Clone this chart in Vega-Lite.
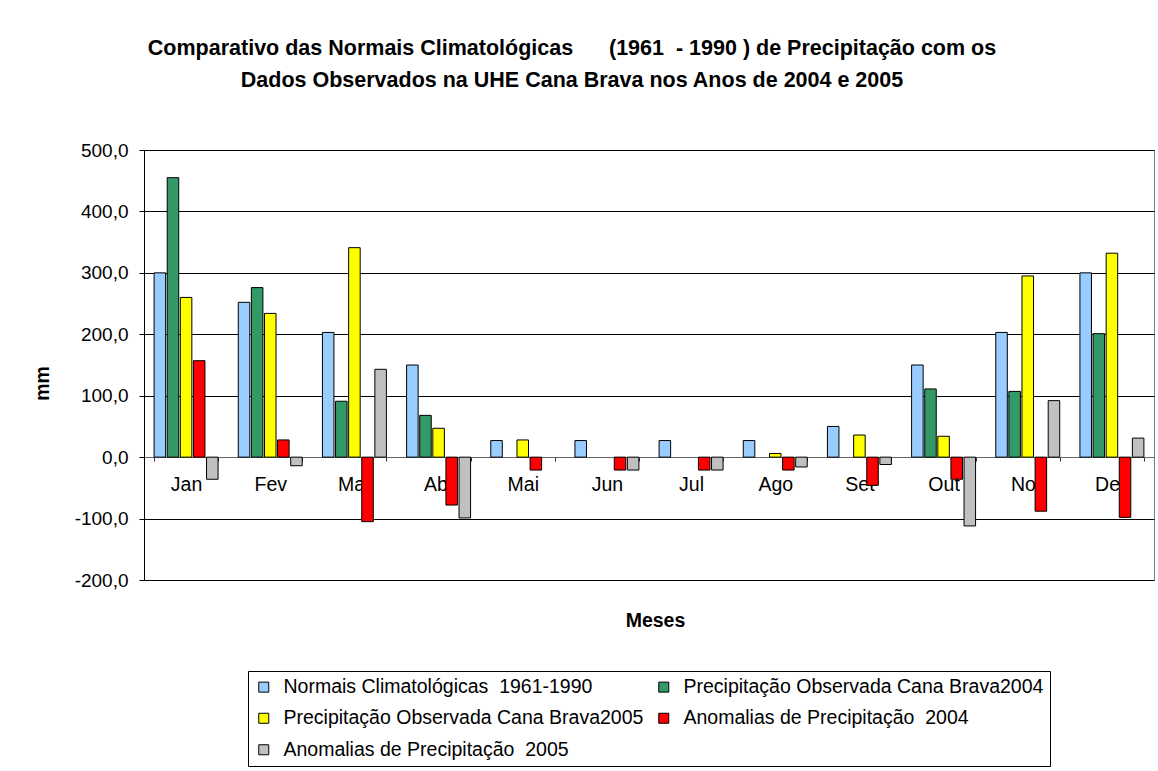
{
  "$schema": "https://vega.github.io/schema/vega-lite/v6.json",
  "width": 1010,
  "height": 430,
  "autosize": "none",
  "padding": {"left": 144, "top": 150, "right": 4, "bottom": 191},
  "background": "white",
  "title": {
    "text": ["Comparativo das Normais Climatológicas\u00a0\u00a0\u00a0\u00a0\u00a0\u00a0(1961\u00a0\u00a0- 1990 ) de Precipitação com os", "Dados Observados na UHE Cana Brava nos Anos de 2004 e 2005"],
    "anchor": "middle",
    "dx": -77,
    "offset": 50,
    "fontSize": 21.5,
    "font": "Liberation Sans",
    "fontWeight": "bold",
    "lineHeight": 32,
    "color": "#000"
  },
  "data": {
    "values": [
      {"mes": "Jan", "serie": "Normais Climatológicas\u00a0\u00a01961-1990", "valor": 300},
      {"mes": "Fev", "serie": "Normais Climatológicas\u00a0\u00a01961-1990", "valor": 252},
      {"mes": "Mar", "serie": "Normais Climatológicas\u00a0\u00a01961-1990", "valor": 203},
      {"mes": "Abr", "serie": "Normais Climatológicas\u00a0\u00a01961-1990", "valor": 150},
      {"mes": "Mai", "serie": "Normais Climatológicas\u00a0\u00a01961-1990", "valor": 27},
      {"mes": "Jun", "serie": "Normais Climatológicas\u00a0\u00a01961-1990", "valor": 27},
      {"mes": "Jul", "serie": "Normais Climatológicas\u00a0\u00a01961-1990", "valor": 27},
      {"mes": "Ago", "serie": "Normais Climatológicas\u00a0\u00a01961-1990", "valor": 27},
      {"mes": "Set", "serie": "Normais Climatológicas\u00a0\u00a01961-1990", "valor": 50},
      {"mes": "Out", "serie": "Normais Climatológicas\u00a0\u00a01961-1990", "valor": 150},
      {"mes": "Nov", "serie": "Normais Climatológicas\u00a0\u00a01961-1990", "valor": 203},
      {"mes": "Dez", "serie": "Normais Climatológicas\u00a0\u00a01961-1990", "valor": 300},
      {"mes": "Jan", "serie": "Precipitação Observada Cana Brava2004", "valor": 455},
      {"mes": "Fev", "serie": "Precipitação Observada Cana Brava2004", "valor": 276},
      {"mes": "Mar", "serie": "Precipitação Observada Cana Brava2004", "valor": 91},
      {"mes": "Abr", "serie": "Precipitação Observada Cana Brava2004", "valor": 68},
      {"mes": "Out", "serie": "Precipitação Observada Cana Brava2004", "valor": 111},
      {"mes": "Nov", "serie": "Precipitação Observada Cana Brava2004", "valor": 107},
      {"mes": "Dez", "serie": "Precipitação Observada Cana Brava2004", "valor": 201},
      {"mes": "Jan", "serie": "Precipitação Observada Cana Brava2005", "valor": 260},
      {"mes": "Fev", "serie": "Precipitação Observada Cana Brava2005", "valor": 234},
      {"mes": "Mar", "serie": "Precipitação Observada Cana Brava2005", "valor": 341},
      {"mes": "Abr", "serie": "Precipitação Observada Cana Brava2005", "valor": 47},
      {"mes": "Mai", "serie": "Precipitação Observada Cana Brava2005", "valor": 28},
      {"mes": "Ago", "serie": "Precipitação Observada Cana Brava2005", "valor": 6},
      {"mes": "Set", "serie": "Precipitação Observada Cana Brava2005", "valor": 36},
      {"mes": "Out", "serie": "Precipitação Observada Cana Brava2005", "valor": 34},
      {"mes": "Nov", "serie": "Precipitação Observada Cana Brava2005", "valor": 295},
      {"mes": "Dez", "serie": "Precipitação Observada Cana Brava2005", "valor": 332},
      {"mes": "Jan", "serie": "Anomalias de Precipitação\u00a0\u00a02004", "valor": 157},
      {"mes": "Fev", "serie": "Anomalias de Precipitação\u00a0\u00a02004", "valor": 28},
      {"mes": "Mar", "serie": "Anomalias de Precipitação\u00a0\u00a02004", "valor": -105},
      {"mes": "Abr", "serie": "Anomalias de Precipitação\u00a0\u00a02004", "valor": -78},
      {"mes": "Mai", "serie": "Anomalias de Precipitação\u00a0\u00a02004", "valor": -21},
      {"mes": "Jun", "serie": "Anomalias de Precipitação\u00a0\u00a02004", "valor": -21},
      {"mes": "Jul", "serie": "Anomalias de Precipitação\u00a0\u00a02004", "valor": -21},
      {"mes": "Ago", "serie": "Anomalias de Precipitação\u00a0\u00a02004", "valor": -21},
      {"mes": "Set", "serie": "Anomalias de Precipitação\u00a0\u00a02004", "valor": -46},
      {"mes": "Out", "serie": "Anomalias de Precipitação\u00a0\u00a02004", "valor": -36},
      {"mes": "Nov", "serie": "Anomalias de Precipitação\u00a0\u00a02004", "valor": -88},
      {"mes": "Dez", "serie": "Anomalias de Precipitação\u00a0\u00a02004", "valor": -98},
      {"mes": "Jan", "serie": "Anomalias de Precipitação\u00a0\u00a02005", "valor": -36},
      {"mes": "Fev", "serie": "Anomalias de Precipitação\u00a0\u00a02005", "valor": -14},
      {"mes": "Mar", "serie": "Anomalias de Precipitação\u00a0\u00a02005", "valor": 143},
      {"mes": "Abr", "serie": "Anomalias de Precipitação\u00a0\u00a02005", "valor": -99},
      {"mes": "Jun", "serie": "Anomalias de Precipitação\u00a0\u00a02005", "valor": -21},
      {"mes": "Jul", "serie": "Anomalias de Precipitação\u00a0\u00a02005", "valor": -21},
      {"mes": "Ago", "serie": "Anomalias de Precipitação\u00a0\u00a02005", "valor": -16},
      {"mes": "Set", "serie": "Anomalias de Precipitação\u00a0\u00a02005", "valor": -12},
      {"mes": "Out", "serie": "Anomalias de Precipitação\u00a0\u00a02005", "valor": -112},
      {"mes": "Nov", "serie": "Anomalias de Precipitação\u00a0\u00a02005", "valor": 92},
      {"mes": "Dez", "serie": "Anomalias de Precipitação\u00a0\u00a02005", "valor": 31}
    ]
  },
  "mark": {"type": "bar", "stroke": "#000", "strokeWidth": 1},
  "encoding": {
    "x": {
      "field": "mes",
      "type": "nominal",
      "sort": ["Jan", "Fev", "Mar", "Abr", "Mai", "Jun", "Jul", "Ago", "Set", "Out", "Nov", "Dez"],
      "scale": {"paddingInner": 0.24, "paddingOuter": 0.12},
      "axis": {
        "title": "Meses",
        "offset": -123,
        "tickBand": "extent",
        "tickSize": 4,
        "tickColor": "#333",
        "domainColor": "#666",
        "labelAngle": 0,
        "labelFontSize": 19.5,
        "labelFont": "Liberation Sans",
        "labelPadding": 14,
        "labelColor": "#000",
        "titleFontSize": 19.5,
        "titleFont": "Liberation Sans",
        "titleFontWeight": "bold",
        "titleColor": "#000",
        "titleX": 511,
        "titleY": 169,
        "titleAlign": "center",
        "titleBaseline": "alphabetic",
        "grid": false
      }
    },
    "xOffset": {
      "field": "serie",
      "type": "nominal",
      "sort": ["Normais Climatológicas\u00a0\u00a01961-1990", "Precipitação Observada Cana Brava2004", "Precipitação Observada Cana Brava2005", "Anomalias de Precipitação\u00a0\u00a02004", "Anomalias de Precipitação\u00a0\u00a02005"],
      "scale": {"paddingInner": 0.12, "paddingOuter": 0}
    },
    "y": {
      "field": "valor",
      "type": "quantitative",
      "scale": {"domain": [-200, 500], "nice": false},
      "axis": {
        "title": "mm",
        "values": [-200, -100, 0, 100, 200, 300, 400, 500],
        "labelExpr": "replace(replace(format(datum.value, '.1f'), '.', ','), '\u2212', '-')",
        "labelFontSize": 19,
        "labelFont": "Liberation Sans",
        "labelColor": "#000",
        "labelPadding": 11,
        "tickSize": 5,
        "tickColor": "#000",
        "domainColor": "#000",
        "grid": true,
        "gridColor": "#000",
        "gridWidth": 1,
        "titleFontSize": 19.5,
        "titleFont": "Liberation Sans",
        "titleFontWeight": "bold",
        "titleColor": "#000",
        "titleAngle": 270,
        "titleX": -92,
        "titleY": 233,
        "titleAlign": "center",
        "titleBaseline": "bottom"
      }
    },
    "color": {
      "field": "serie",
      "type": "nominal",
      "sort": ["Normais Climatológicas\u00a0\u00a01961-1990", "Precipitação Observada Cana Brava2004", "Precipitação Observada Cana Brava2005", "Anomalias de Precipitação\u00a0\u00a02004", "Anomalias de Precipitação\u00a0\u00a02005"],
      "scale": {
        "domain": ["Normais Climatológicas\u00a0\u00a01961-1990", "Precipitação Observada Cana Brava2004", "Precipitação Observada Cana Brava2005", "Anomalias de Precipitação\u00a0\u00a02004", "Anomalias de Precipitação\u00a0\u00a02005"],
        "range": ["#99CCFF", "#339966", "#FFFF00", "#FF0000", "#C0C0C0"]
      },
      "legend": {
        "title": null,
        "orient": "none",
        "direction": "horizontal",
        "legendX": 104,
        "legendY": 521,
        "columns": 2,
        "columnPadding": 10,
        "rowPadding": 10.5,
        "padding": 6,
        "offset": 0,
        "strokeColor": "#000",
        "fillColor": "#fff",
        "symbolType": "square",
        "symbolSize": 100,
        "symbolStrokeColor": "#000",
        "symbolStrokeWidth": 1,
        "symbolOpacity": 1,
        "labelFontSize": 19.5,
        "labelFont": "Liberation Sans",
        "labelColor": "#000",
        "labelLimit": 600,
        "labelOffset": 10
      }
    }
  },
  "config": {
    "font": "Liberation Sans",
    "view": {"stroke": "#808080", "strokeWidth": 1}
  }
}
